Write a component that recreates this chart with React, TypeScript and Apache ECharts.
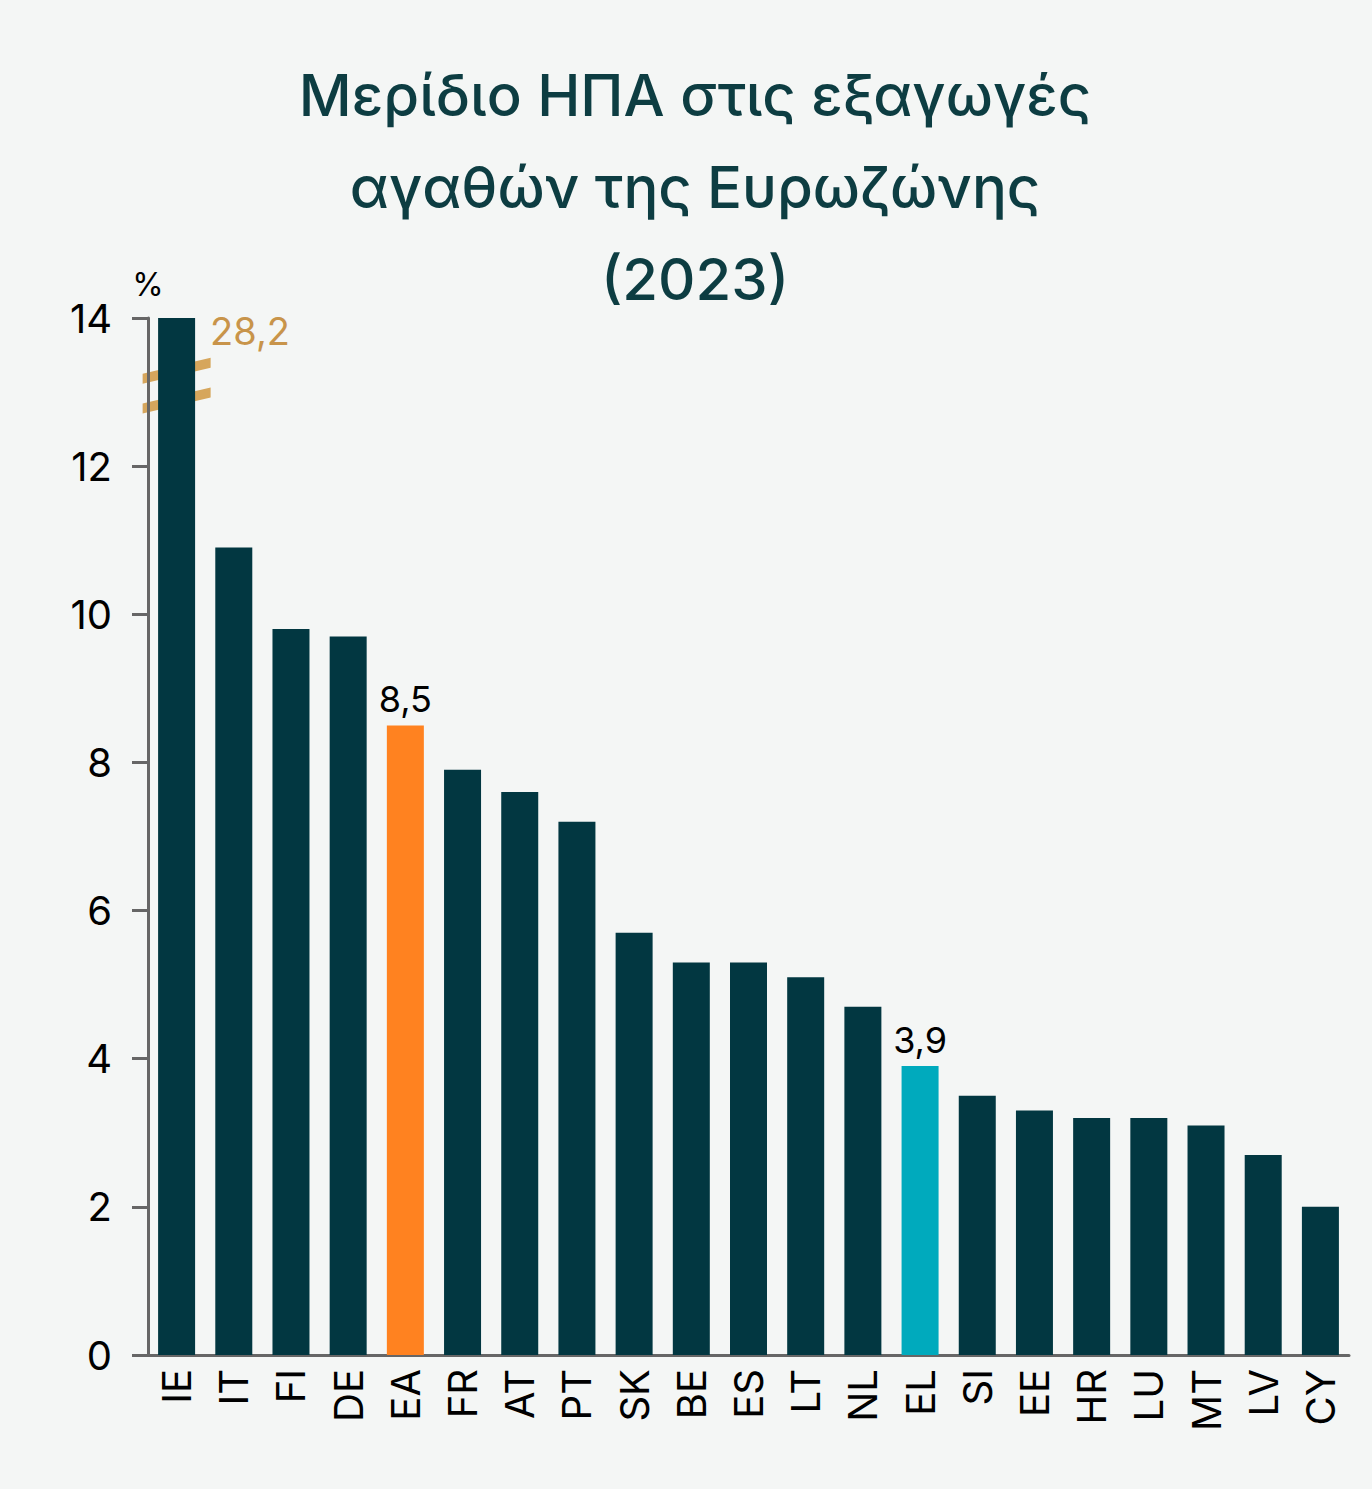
import { useEffect, useRef } from 'react';
import * as echarts from 'echarts';

const countries = ['IE', 'IT', 'FI', 'DE', 'EA', 'FR', 'AT', 'PT', 'SK', 'BE', 'ES', 'LT', 'NL', 'EL', 'SI', 'EE', 'HR', 'LU', 'MT', 'LV', 'CY'];
const shares = [28.2, 10.9, 9.8, 9.7, 8.5, 7.9, 7.6, 7.2, 5.7, 5.3, 5.3, 5.1, 4.7, 3.9, 3.5, 3.3, 3.2, 3.2, 3.1, 2.7, 2.0];
const axisMax = 14;

const DARK = '#023741';
const fmt = (v: number) => v.toFixed(1).replace('.', ',');

const App = () => {
  const chartRef = useRef<HTMLDivElement>(null);

  useEffect(() => {
    if (!chartRef.current) return;
    const chart = echarts.init(chartRef.current, null, { renderer: 'svg' });

    const data = shares.map((v, i) => {
      const c = countries[i];
      const item: any = { value: Math.min(v, axisMax) };
      if (c === 'EA') item.itemStyle = { color: '#ff8220' };
      if (c === 'EL') item.itemStyle = { color: '#00aabd' };
      if (c === 'EA' || c === 'EL') {
        item.label = { show: true, position: 'top', formatter: fmt(v), color: '#000', fontSize: 36, distance: 8 };
      }
      if (v > axisMax) {
        item.label = { show: true, position: [52, -6], formatter: fmt(v), color: '#c8944a', fontSize: 38 };
      }
      return item;
    });

    chart.setOption({
      animation: false,
      backgroundColor: '#f4f6f5',
      textStyle: { fontFamily: 'Inter, "Noto Sans", sans-serif' },
      title: {
        text: 'Μερίδιο ΗΠΑ στις εξαγωγές\nαγαθών της Ευρωζώνης\n(2023)',
        left: 690,
        textAlign: 'center',
        top: 44,
        textStyle: { color: '#0d3d42', fontSize: 58, fontWeight: 500, lineHeight: 92 },
      },
      grid: { left: 148, right: 23, top: 318, bottom: 134 },
      xAxis: {
        type: 'category',
        data: countries,
        axisLine: { lineStyle: { color: '#666', width: 3 } },
        axisTick: { show: false },
        axisLabel: { rotate: 90, color: '#000', fontSize: 40, margin: 14 },
      },
      yAxis: {
        type: 'value',
        min: 0,
        max: axisMax,
        interval: 2,
        name: '%',
        nameLocation: 'end',
        nameGap: 18,
        nameTextStyle: { color: '#000', fontSize: 32, align: 'center', padding: [0, 0, 0, 0] },
        splitLine: { show: false },
        axisLine: { show: true, lineStyle: { color: '#666', width: 3 } },
        axisTick: { show: true, length: 16, lineStyle: { color: '#666', width: 3 } },
        axisLabel: { color: '#000', fontSize: 40, margin: 36 },
      },
      series: [{ type: 'bar', data, barWidth: 37, itemStyle: { color: DARK }, clip: true }],
    });

    // break marks on the clipped bar
    const idx = shares.findIndex(v => v > axisMax);
    if (idx >= 0) {
      const [cx] = chart.convertToPixel({ seriesIndex: 0 }, [idx, 0]) as number[];
      const [, y1] = chart.convertToPixel({ seriesIndex: 0 }, [idx, 13.3]) as number[];
      const [, y2] = chart.convertToPixel({ seriesIndex: 0 }, [idx, 12.9]) as number[];
      const mark = (y: number) => ({
        type: 'polygon',
        shape: { points: [[cx - 34, y + 4], [cx + 34, y - 12], [cx + 34, y - 2], [cx - 34, y + 14]] },
        style: { fill: '#d6a65c' },
      });
      chart.setOption({ graphic: [mark(y1), mark(y2)] });
    }

    return () => chart.dispose();
  }, []);

  return <div ref={chartRef} style={{ position: 'absolute', left: 0, top: 0, width: 1372, height: 1489 }} />;
};

export default App;
